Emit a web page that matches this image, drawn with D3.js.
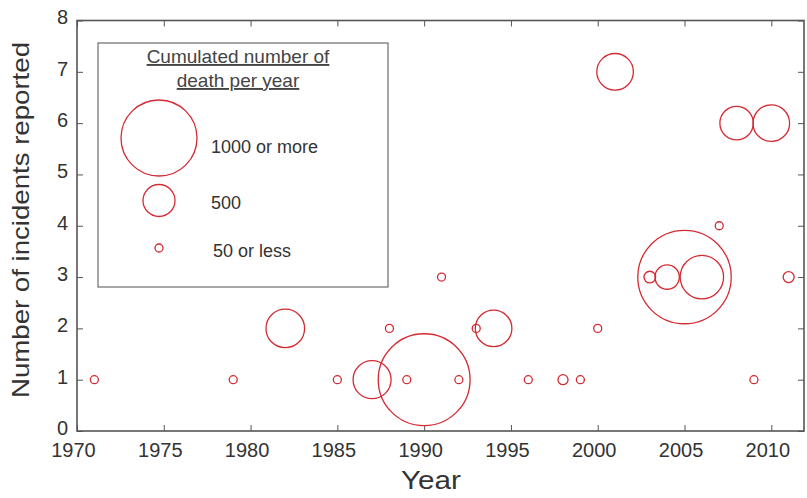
<!DOCTYPE html>
<html>
<head>
<meta charset="utf-8">
<script src="https://cdn.jsdelivr.net/npm/d3@7"></script>
<style>
  html, body { margin: 0; padding: 0; background: #fff; }
  svg { display: block; font-family: "Liberation Sans", Arial, Helvetica, sans-serif; }
</style>
</head>
<body>
<svg id="chart" width="807" height="498"></svg>
<script>
// ---- data ----
const years     = [1971, 1979, 1982, 1985, 1987, 1988, 1989, 1990, 1991, 1992, 1993, 1994, 1996, 1998, 1999, 2000, 2001, 2003, 2004, 2005, 2006, 2007, 2008, 2009, 2010, 2011];
const incidents = [1,    1,    2,    1,    1,    2,    1,    1,    3,    1,    2,    2,    1,    1,    1,    2,    7,    3,    3,    3,    3,    4,    6,    1,    6,    3];
const deaths    = [50,   50,   575,  50,   568,  50,   50,   1180, 50,   50,   50,   552,  50,   88,   50,   50,   552,  118,  357,  1198, 630,  50,   516,  50,   552,  106];
const xTicks = [1970, 1975, 1980, 1985, 1990, 1995, 2000, 2005, 2010];
const yTicks = [0, 1, 2, 3, 4, 5, 6, 7, 8];
const legendValues = [1000, 500, 50];
const legendLabels = ["1000 or more", "500", "50 or less"];
const legendTitle = ["Cumulated number of", "death per year"];
const xTitle = "Year";
const yTitle = "Number of incidents reported";

// ---- layout ----
const svg = d3.select("#chart");
const pLeft = 77, pRight = 804, pTop = 20.5, pBottom = 431;
const axisColor = "#555";
const red = "#d42a32";

const x = d3.scaleLinear().domain([1970, 2010]).range([pLeft, 771.3]);
const y = d3.scaleLinear().domain([0, 8]).range([pBottom, pTop]);
const r = d3.scaleLinear().domain([50, 500, 1000]).range([4, 16, 38]);

// bottom axis (ticks inward)
const gx = svg.append("g").attr("transform", `translate(0,${pBottom})`)
  .call(d3.axisBottom(x).tickValues(xTicks).tickFormat(d3.format("d")).tickSize(-6).tickPadding(12).tickSizeOuter(0));
gx.select(".domain").remove();
gx.selectAll("text").attr("font-size", 20).attr("fill", "#333").attr("dx", -4);
gx.selectAll("line").attr("stroke", axisColor);

// top axis ticks (inward)
const gxt = svg.append("g").attr("transform", `translate(0,${pTop})`)
  .call(d3.axisTop(x).tickValues(xTicks).tickFormat("").tickSize(-6).tickSizeOuter(0));
gxt.select(".domain").remove();
gxt.selectAll("line").attr("stroke", axisColor);

// left axis
const gy = svg.append("g").attr("transform", `translate(${pLeft},0)`)
  .call(d3.axisLeft(y).tickValues(yTicks).tickFormat(d3.format("d")).tickSize(-6).tickPadding(9).tickSizeOuter(0));
gy.select(".domain").remove();
gy.selectAll("text").attr("font-size", 20).attr("fill", "#333").attr("y", -3);
gy.selectAll("line").attr("stroke", axisColor);

// right axis ticks
const gyr = svg.append("g").attr("transform", `translate(${pRight},0)`)
  .call(d3.axisRight(y).tickValues(yTicks).tickFormat("").tickSize(-6).tickSizeOuter(0));
gyr.select(".domain").remove();
gyr.selectAll("line").attr("stroke", axisColor);

// frame
svg.append("rect")
  .attr("x", pLeft).attr("y", pTop).attr("width", pRight - pLeft).attr("height", pBottom - pTop)
  .attr("fill", "none").attr("stroke", axisColor).attr("stroke-width", 1.6);

// axis titles
svg.append("text").attr("x", 431).attr("y", 489).attr("text-anchor", "middle")
  .attr("font-size", 26).attr("fill", "#333")
  .attr("textLength", 60).attr("lengthAdjust", "spacingAndGlyphs").text(xTitle);
svg.append("text").attr("transform", "translate(29,220) rotate(-90)").attr("text-anchor", "middle")
  .attr("font-size", 24).attr("fill", "#333")
  .attr("textLength", 356).attr("lengthAdjust", "spacingAndGlyphs").text(yTitle);

// data bubbles
const data = years.map((yr, i) => ({ year: yr, n: incidents[i], d: deaths[i] }));
svg.append("g").selectAll("circle").data(data).join("circle")
  .attr("cx", d => x(d.year)).attr("cy", d => y(d.n)).attr("r", d => r(d.d))
  .attr("fill", "none").attr("stroke", red).attr("stroke-width", 1.3);

// legend
const lg = svg.append("g");
lg.append("rect").attr("x", 98).attr("y", 43).attr("width", 290).attr("height", 244)
  .attr("fill", "#fff").attr("stroke", "#777").attr("stroke-width", 1.3);
legendTitle.forEach((t, i) => {
  lg.append("text").attr("x", 238).attr("y", 63 + i * 24).attr("text-anchor", "middle")
    .attr("font-size", 19).attr("fill", "#444").attr("text-decoration", "underline").text(t);
});
const legendCy = [138, 200.5, 248];
const legendTx = [211, 211, 213];
legendValues.forEach((v, i) => {
  lg.append("circle").attr("cx", 159).attr("cy", legendCy[i]).attr("r", r(v))
    .attr("fill", "none").attr("stroke", red).attr("stroke-width", 1.3);
  lg.append("text").attr("x", legendTx[i]).attr("y", legendCy[i] + (i === 0 ? 8.5 : 2.5)).attr("dy", "0.35em")
    .attr("font-size", 18).attr("fill", "#333").text(legendLabels[i]);
});
</script>
</body>
</html>
